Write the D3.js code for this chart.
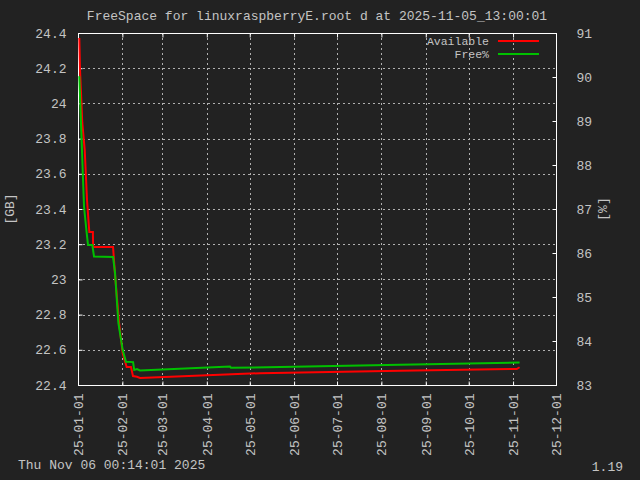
<!DOCTYPE html>
<html><head><meta charset="utf-8">
<script src="https://cdn.jsdelivr.net/npm/d3@7"></script>
<style>
html,body{margin:0;padding:0;background:#222222;}
svg{display:block;}
text{font-family:"Liberation Mono","DejaVu Sans Mono",monospace;font-size:13px;fill:#c4c4c4;}
</style></head><body>
<svg id="c" width="640" height="480"></svg>
<script>
const titleText = "FreeSpace for linuxraspberryE.root d at 2025-11-05_13:00:01";
const footerLeft = "Thu Nov 06 00:14:01 2025";
const footerRight = "1.19";
const seriesNames = ["Available", "Free%"];

const availDates = ["2025-01-01T22:00","2025-01-02T10:00","2025-01-04T00:00","2025-01-05T17:00","2025-01-07T07:00","2025-01-08T22:00","2025-01-11T10:00","2025-01-11T13:00","2025-01-25T12:00","2025-01-26T19:00","2025-01-29T17:00","2025-02-01T05:00","2025-02-04T00:00","2025-02-07T00:00","2025-02-08T10:00","2025-02-11T05:00","2025-02-13T07:00","2025-05-08T05:00","2025-08-14T00:00","2025-11-03T14:00","2025-11-05T13:00"];
const availGB = [24.372,24.19,23.889,23.735,23.451,23.269,23.269,23.184,23.184,23.036,22.752,22.582,22.502,22.502,22.451,22.447,22.440,22.467,22.481,22.491,22.501];

const freeDates = ["2025-01-01T22:00","2025-01-03T14:00","2025-01-05T05:00","2025-01-07T02:00","2025-01-08T00:00","2025-01-11T00:00","2025-01-12T05:00","2025-01-25T12:00","2025-01-26T21:00","2025-01-29T05:00","2025-02-01T05:00","2025-02-03T12:00","2025-02-08T12:00","2025-02-09T07:00","2025-02-11T05:00","2025-02-13T07:00","2025-04-17T05:00","2025-04-17T22:00","2025-08-14T00:00","2025-11-05T13:00"];
const freePct = [90.02,88.50,87.05,86.45,86.18,86.18,85.92,85.91,85.55,84.41,83.80,83.53,83.52,83.34,83.36,83.33,83.42,83.39,83.46,83.51];

const yTicks = [22.4,22.6,22.8,23,23.2,23.4,23.6,23.8,24,24.2,24.4];
const y2Ticks = [83,84,85,86,87,88,89,90,91];
const xTickDates = ["2025-01-01","2025-02-01","2025-03-01","2025-04-01","2025-05-01","2025-06-01","2025-07-01","2025-08-01","2025-09-01","2025-10-01","2025-11-01","2025-12-01"];

const parse = d3.isoParse;
const fmt = d3.timeFormat("%y-%m-%d");
const L=78, R=556, T=33, B=385;
const svg = d3.select("#c");
svg.append("rect").attr("width",640).attr("height",480).attr("fill","#222222");

const x = d3.scaleTime().domain([parse("2025-01-01"), parse("2025-12-01")]).range([L,R]);
const y = d3.scaleLinear().domain([22.4,24.4]).range([B,T]);
const y2 = d3.scaleLinear().domain([83,91]).range([B,T]);

// grid
const grid = svg.append("g").attr("stroke","#b0b0b0").attr("stroke-width",1).attr("stroke-dasharray","2,3");
xTickDates.forEach(d=>{const xx=Math.round(x(parse(d)))+0.5;
  grid.append("line").attr("x1",xx).attr("x2",xx).attr("y1",T).attr("y2",B);});
yTicks.forEach(v=>{const yy=Math.round(y(v))+0.5;
  grid.append("line").attr("x1",L).attr("x2",R).attr("y1",yy).attr("y2",yy);});

// axes
const axL = d3.axisLeft(y).tickValues(yTicks).tickSizeInner(-4).tickSizeOuter(0).tickPadding(12).tickFormat(d=>d3.format("")(+d.toFixed(1)));
const gL = svg.append("g").attr("transform",`translate(${L+0.5},0)`).call(axL);
const axR = d3.axisRight(y2).tickValues(y2Ticks).tickSizeInner(-4).tickSizeOuter(0).tickPadding(20).tickFormat(d3.format("d"));
const gR = svg.append("g").attr("transform",`translate(${R+0.5},0)`).call(axR);
const axB = d3.axisBottom(x).tickValues(xTickDates.map(parse)).tickSizeInner(-4).tickSizeOuter(0).tickFormat(fmt);
const gB = svg.append("g").attr("transform",`translate(0,${B+0.5})`).call(axB);
const axT = d3.axisTop(x).tickValues(xTickDates.map(parse)).tickSizeInner(-4).tickSizeOuter(0).tickFormat("");
const gT = svg.append("g").attr("transform",`translate(0,${T+0.5})`).call(axT);
[gL,gR,gB,gT].forEach(g=>{g.select(".domain").remove();
  g.selectAll(".tick line").attr("stroke","#ffffff");
  g.selectAll("text").attr("fill","#c4c4c4").style("font-family","'Liberation Mono',monospace").style("font-size","13px");});
gB.selectAll(".tick text").attr("transform","rotate(-90)").attr("text-anchor","end").attr("x",-8).attr("y",0).attr("dy","0.35em");
svg.append("rect").attr("x",L+0.5).attr("y",T+0.5).attr("width",R-L).attr("height",B-T)
  .attr("fill","none").attr("stroke","#ffffff").attr("stroke-width",1);

// lines
const la = d3.line().x((d,i)=>x(parse(availDates[i]))).y(d=>y(d));
const lf = d3.line().x((d,i)=>x(parse(freeDates[i]))).y(d=>y2(d));
svg.append("path").attr("d",la(availGB)).attr("fill","none").attr("stroke","#ff0000").attr("stroke-width",2);
svg.append("path").attr("d",lf(freePct)).attr("fill","none").attr("stroke","#00c000").attr("stroke-width",2);

// legend
const colors=["#ff0000","#00c000"];
seriesNames.forEach((n,i)=>{const yy=41+i*13;
  svg.append("text").attr("x",489).attr("y",yy).attr("dy","0.35em").style("font-size","11.5px").attr("text-anchor","end").text(n);
  svg.append("line").attr("x1",498).attr("x2",539).attr("y1",yy).attr("y2",yy).attr("stroke",colors[i]).attr("stroke-width",2);});

// titles
svg.append("text").attr("x",317).attr("y",20).attr("text-anchor","middle").text(titleText);
svg.append("text").attr("transform","translate(14,209) rotate(-90)").attr("text-anchor","middle").text("[GB]");
svg.append("text").attr("transform","translate(607,209) rotate(-90)").attr("text-anchor","middle").text("[%]");
svg.append("text").attr("x",18).attr("y",469).text(footerLeft);
svg.append("text").attr("x",623).attr("y",471).attr("text-anchor","end").text(footerRight);
</script></body></html>
